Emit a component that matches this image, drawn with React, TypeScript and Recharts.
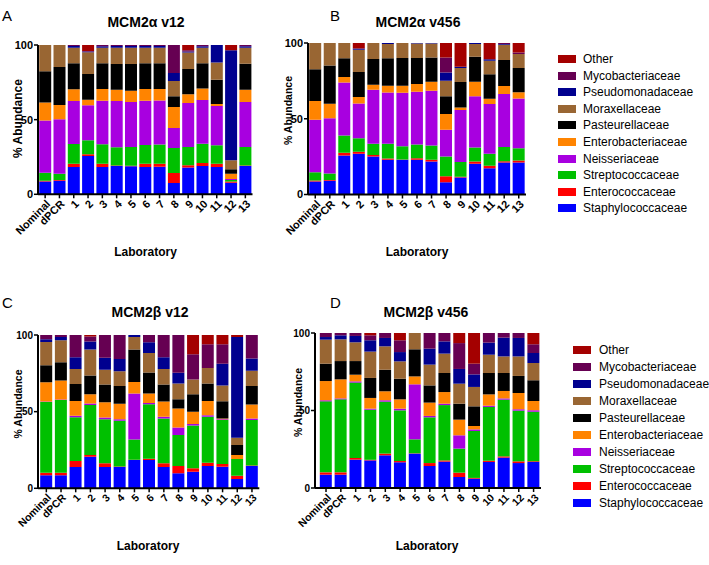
import React from "react";
import { BarChart, Bar, XAxis, YAxis } from "recharts";

// Laboratories on the x axis
const labs = ["Nominal", "dPCR", "1", "2", "3", "4", "5", "6", "7", "8", "9", "10", "11", "12", "13"];

// Families, bottom of the stack first
const families = [
  "Staphylococcaceae",
  "Enterococcaceae",
  "Streptococcaceae",
  "Neisseriaceae",
  "Enterobacteriaceae",
  "Pasteurellaceae",
  "Moraxellaceae",
  "Pseudomonadaceae",
  "Mycobacteriaceae",
  "Other",
];

const colors = ["#0000ff", "#ff0000", "#00c000", "#a800e0", "#ff8400", "#000000", "#996633", "#00008f", "#660052", "#a40000"];

const yTicks = [0, 50, 100];

// % abundance per lab (rows follow labs, columns follow families)
const alphaV12 = [
  [8.5, 0.5, 5.5, 35, 12, 21, 17.5, 0, 0, 0],
  [9, 0.5, 4.3, 36.5, 9.5, 25.5, 14.7, 0, 0, 0],
  [18.3, 2.2, 13.2, 28.8, 7.8, 17.4, 10.5, 1.2, 0.6, 0],
  [25.7, 1.1, 9.4, 23.4, 3.8, 17.2, 14.5, 0.6, 0.3, 4],
  [18.3, 2.2, 13, 29.2, 7.8, 17.2, 10.5, 0.9, 0.9, 0],
  [19, 0.3, 12.2, 31, 7.5, 17.3, 10.9, 1.2, 0.6, 0],
  [18.8, 0.3, 12.6, 30.1, 7.6, 17.9, 10.9, 1.2, 0.6, 0],
  [18.3, 2.2, 12.5, 29.7, 7.8, 17.2, 10.5, 1.2, 0.6, 0],
  [18.5, 2, 12.8, 29.5, 7.8, 17.1, 10.5, 1.2, 0.6, 0],
  [7.6, 6.7, 16.7, 13.4, 14.1, 7.1, 10.3, 5.4, 18.7, 0],
  [17.9, 1.5, 12.3, 29.5, 5.8, 16.9, 11, 0.7, 0.8, 3.6],
  [19, 2, 12.9, 29.3, 7.6, 16.9, 10.5, 0.9, 0.9, 0],
  [18.3, 2.2, 12.3, 26.4, 1.3, 16.3, 11.4, 11.8, 0, 0],
  [7.8, 0.8, 1, 0.6, 3.6, 2.9, 6.1, 73.6, 0, 3.6],
  [19, 0.3, 12.4, 30.1, 8.2, 17.5, 10.7, 0.9, 0.9, 0],
];

const alphaV456 = [
  [8.5, 0.7, 5.5, 34.7, 12.3, 21, 17.3, 0, 0, 0],
  [9, 0.5, 4.3, 36.5, 9.6, 25.3, 14.8, 0, 0, 0],
  [25.8, 1.7, 11.5, 35, 3.5, 12.4, 10.1, 0, 0, 0],
  [26.9, 1.3, 9, 22.9, 4.2, 16.5, 14.8, 0.7, 0, 3.7],
  [25.1, 0.9, 7.5, 35.7, 3.3, 16.9, 10.6, 0, 0, 0],
  [22.9, 0.9, 9.7, 33.9, 4.4, 18.1, 9.4, 0.7, 0, 0],
  [22.9, 0.2, 8.8, 35.3, 4.6, 18.3, 9.9, 0, 0, 0],
  [22.9, 1.1, 9, 34.8, 5.1, 17.2, 9.5, 0.4, 0, 0],
  [21.8, 1.1, 9.5, 36.1, 5.9, 16.1, 9.1, 0.4, 0, 0],
  [8.1, 4, 13, 17.6, 10.4, 11.7, 10.3, 5.5, 9.9, 9.5],
  [11.2, 0.5, 9.7, 34.3, 1.8, 16.7, 9.3, 0.9, 0, 15.6],
  [20.3, 1.5, 9.3, 33.7, 9.6, 16.6, 8.3, 0.7, 0, 0],
  [17.4, 1.5, 8, 32.8, 3.5, 16.1, 9, 0.9, 0, 10.8],
  [21.1, 0.9, 9.3, 35, 5.3, 17.2, 10.1, 0.5, 0.6, 0],
  [21.1, 1.3, 8.1, 32.8, 4.2, 16, 9.2, 0, 1.1, 6.2],
];

const betaV12 = [
  [8.5, 1.7, 46.1, 0.3, 12.6, 11.1, 15.1, 1.8, 2.8, 0],
  [8.5, 1.7, 47.4, 0.3, 12.4, 11.9, 14.3, 2.2, 1.3, 0],
  [13.9, 3.9, 28.6, 0.9, 9.7, 11.1, 9.8, 7.6, 14.5, 0],
  [20.6, 1.1, 32.7, 0.9, 6.1, 12.1, 17, 5.2, 3.4, 0.9],
  [13.9, 2.4, 28.8, 1.1, 10, 11.5, 9.7, 7.8, 14.8, 0],
  [13.9, 0.3, 29.8, 1.1, 10, 11.7, 9.6, 8, 15.6, 0],
  [18.4, 0.3, 13.2, 29.9, 7.6, 21.1, 8.2, 1.3, 0, 0],
  [18.4, 0.9, 35.6, 0.8, 6.1, 13.7, 12.8, 6.9, 4.8, 0],
  [13.9, 2.4, 29.3, 1, 10, 11.1, 10.2, 7.6, 14.5, 0],
  [9.8, 4.7, 20.2, 5, 12.4, 6, 10.2, 7, 24.7, 0],
  [10.8, 2.2, 28, 0.9, 8, 11.5, 9.5, 0, 16.5, 12.6],
  [14.5, 2.2, 29.9, 1.1, 9.3, 11.3, 10.2, 0, 15.4, 6.1],
  [14.1, 1.7, 28.7, 0.6, 0.5, 11.2, 10.2, 14.3, 12.6, 6.1],
  [6.1, 2.1, 10.9, 0, 2.6, 6.5, 4.8, 65.7, 0, 1.3],
  [14.5, 0.3, 29.7, 1.1, 9.1, 12.1, 9.8, 8, 15.4, 0],
];

const betaV456 = [
  [8.6, 1.5, 45.8, 0.7, 12.4, 11.2, 15.5, 1.7, 2.6, 0],
  [8.6, 1.5, 47.1, 0.6, 12.3, 11.8, 14, 2.6, 1.5, 0],
  [18.3, 1.1, 48.6, 0.8, 4.3, 8.8, 12.1, 4.1, 1.9, 0],
  [17.8, 0.4, 32.3, 0.7, 6.9, 12.9, 17, 7.3, 3.2, 1.5],
  [21.1, 1.1, 33.5, 0.9, 5.8, 13.9, 15.1, 5.4, 3.2, 0],
  [16.6, 0.8, 32.7, 1.1, 6, 13.3, 11.2, 6, 7.6, 4.7],
  [22.2, 0.2, 9, 35.5, 5.1, 17.5, 10.5, 0, 0, 0],
  [14.2, 1.9, 29.5, 0.9, 8.6, 11.1, 13.4, 10.3, 10.1, 0],
  [17, 0.8, 35.7, 0.9, 7.5, 12.3, 12.5, 7.9, 5.4, 0],
  [7.1, 2.8, 15.5, 8.6, 10.1, 10.3, 12.9, 9.5, 16.7, 6.5],
  [6, 0.5, 30.3, 1, 2.2, 12.7, 12.5, 8.1, 6.9, 19.8],
  [16.8, 0.8, 34.7, 0.8, 7.3, 13.8, 11.8, 7.8, 6.2, 0],
  [19.6, 0.8, 36.6, 0.8, 4.8, 11.6, 10.7, 12.1, 3, 0],
  [16.1, 1.1, 32.7, 0.9, 10.5, 11, 12.6, 11.9, 3.2, 0],
  [16.8, 0.4, 32, 0.9, 6, 13.4, 11.1, 6.5, 5.6, 7.3],
];

const font = "'Liberation Sans', Arial, sans-serif";

const toRows = (values: number[][]) =>
  labs.map((lab, i) => {
    const row: Record<string, string | number> = { lab };
    families.forEach((f, j) => {
      row[f] = values[i][j];
    });
    return row;
  });

const LabTick = (props: any) => {
  const { x, y, payload, fontSize } = props;
  const tx = x + 3;
  const ty = y + 1.5;
  return (
    <text
      x={tx}
      y={ty}
      transform={`rotate(-45 ${tx} ${ty})`}
      textAnchor="end"
      dominantBaseline="central"
      fontSize={fontSize}
      fontWeight="bold"
      fill="#000"
    >
      {payload.value}
    </text>
  );
};

type PanelProps = {
  values: number[][];
  axisX: number;
  top: number;
  bottom: number;
  end: number;
  padLeft: number;
  yFont: number;
  xFont: number;
};

const Panel = ({ values, axisX, top, bottom, end, padLeft, yFont, xFont }: PanelProps) => {
  const yw = 40;
  const mt = 6;
  const mr = 4;
  const xh = 60;
  const width = yw + (end - axisX) + mr;
  const height = mt + (bottom - top) + xh;
  return (
    <div style={{ position: "absolute", left: axisX - yw, top: top - mt }}>
      <BarChart
        width={width}
        height={height}
        data={toRows(values)}
        margin={{ top: mt, right: mr, bottom: 0, left: 0 }}
        barCategoryGap={1.2}
      >
        <XAxis
          dataKey="lab"
          interval={0}
          height={xh}
          padding={{ left: padLeft, right: 0 }}
          tick={(p: any) => <LabTick {...p} fontSize={xFont} />}
          tickSize={4}
          tickLine={{ stroke: "#000", strokeWidth: 1.5 }}
          axisLine={{ stroke: "#000", strokeWidth: 2 }}
        />
        <YAxis
          width={yw}
          domain={[0, 100]}
          allowDataOverflow
          ticks={yTicks}
          tickSize={4}
          tickMargin={1}
          tick={{ fontSize: yFont, fontWeight: "bold", fill: "#000" }}
          tickLine={{ stroke: "#000", strokeWidth: 1.5 }}
          axisLine={{ stroke: "#000", strokeWidth: 2 }}
        />
        {families.map((f, j) => (
          <Bar key={f} dataKey={f} stackId="s" fill={colors[j]} isAnimationActive={false} />
        ))}
      </BarChart>
    </div>
  );
};

const FamilyLegend = ({ left, top, step, textLeft }: { left: number; top: number; step: number; textLeft: number }) => (
  <>
    {families
      .map((f, j) => ({ f, c: colors[j] }))
      .reverse()
      .map((item, i) => (
        <div key={item.f}>
          <div
            style={{
              position: "absolute",
              left,
              top: top + i * step - 4,
              width: 17.5,
              height: 8,
              background: item.c,
            }}
          />
          <div
            style={{
              position: "absolute",
              left: textLeft,
              top: top + i * step - 8,
              height: 16,
              lineHeight: "16px",
              fontSize: 12,
              color: "#000",
              whiteSpace: "nowrap",
            }}
          >
            {item.f}
          </div>
        </div>
      ))}
  </>
);

export default function App() {
  return (
    <div style={{ position: "absolute", left: 0, top: 0, width: 709, height: 565, background: "#fff", fontFamily: font }}>
      <Panel values={alphaV12} axisX={37.7} top={44.7} bottom={194} end={252.2} padLeft={0} yFont={11} xFont={11} />
      <Panel values={alphaV456} axisX={308} top={42.5} bottom={194} end={526} padLeft={0} yFont={11} xFont={11} />
      <Panel values={betaV12} axisX={37.7} top={334.7} bottom={488} end={259} padLeft={1} yFont={10} xFont={10.5} />
      <Panel values={betaV456} axisX={314.5} top={332.7} bottom={487.7} end={540.5} padLeft={3.6} yFont={10} xFont={10.5} />

      <svg width={709} height={565} style={{ position: "absolute", left: 0, top: 0, pointerEvents: "none" }}>
        <g fontFamily={font} fill="#000">
          <text x={2} y={21} fontSize={15}>A</text>
          <text x={330} y={21} fontSize={15}>B</text>
          <text x={2} y={308} fontSize={15}>C</text>
          <text x={330} y={308} fontSize={15}>D</text>

          <g fontSize={14} fontWeight="bold" textAnchor="middle">
            <text x={146} y={27.3}>MCM2α v12</text>
            <text x={418} y={27}>MCM2α v456</text>
            <text x={150} y={317.3}>MCM2β v12</text>
            <text x={426} y={317}>MCM2β v456</text>
          </g>

          <g fontWeight="bold" textAnchor="middle" dominantBaseline="central">
            <text x={145.5} y={251.7} fontSize={12}>Laboratory</text>
            <text x={417} y={251.7} fontSize={12}>Laboratory</text>
            <text x={148} y={546} fontSize={12}>Laboratory</text>
            <text x={427} y={546} fontSize={12}>Laboratory</text>

            <text x={17.7} y={118.5} fontSize={12} transform="rotate(-90 17.7 118.5)">% Abundance</text>
            <text x={288} y={110.5} fontSize={10.5} transform="rotate(-90 288 110.5)">% Abundance</text>
            <text x={18} y={404} fontSize={10.5} transform="rotate(-90 18 404)">% Abundance</text>
            <text x={298} y={402.5} fontSize={10.5} transform="rotate(-90 298 402.5)">% Abundance</text>
          </g>
        </g>
      </svg>

      <FamilyLegend left={558} top={59} step={16.6} textLeft={583} />
      <FamilyLegend left={573} top={350} step={17} textLeft={599} />
    </div>
  );
}
